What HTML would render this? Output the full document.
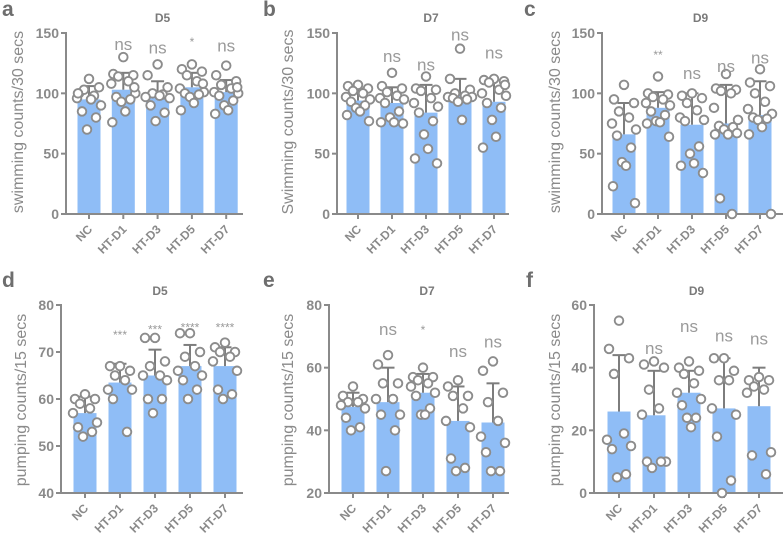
<!DOCTYPE html>
<html><head><meta charset="utf-8">
<style>
html,body{margin:0;padding:0;background:#fff;}
svg{display:block;font-family:"Liberation Sans",sans-serif;}
</style></head>
<body>
<svg id="fig" width="783" height="543" viewBox="0 0 783 543" xmlns="http://www.w3.org/2000/svg"></svg>
<script>
const categories = ["NC","HT-D1","HT-D3","HT-D5","HT-D7"];

// panel a
const aMeans = [95,103,97,105,101];
const aErr = [106,117,110,117,111];
const aPoints = [[112,100,105,103,98,96,90,85,80,70,95,100],[130,116,115,114,110,108,100,97,95,93,85,76,105],[124,115,105,100,99,97,96,90,84,77,98],[124,120,118,115,110,104,101,100,99,97,92,86,108],[123,115,110,107,104,101,100,98,94,90,86,83,105]];
const aSig = ["","ns","ns","*","ns"];
const aSigY = [0,140,137,146,139];
const aTicks = [0,50,100,150];
// panel b
const bMeans = [94,92,84,98,93];
const bErr = [104,105,107,112,111];
const bPoints = [[107,106,104,102,100,97,95,93,90,88,85,82,77],[117,106,104,101,98,96,95,92,85,80,76,76,75],[114,104,103,102,96,92,89,84,77,66,54,46,42],[137,112,103,100,98,97,97,96,95,93,78],[112,111,110,109,103,100,98,92,88,78,64,55,107]];
const bSig = ["","ns","ns","ns","ns"];
const bSigY = [0,130,123,148,133];
const bTicks = [0,50,100,150];
// panel c
const cMeans = [66,88,74,75,82];
const cErr = [92,101,100,107,110];
const cPoints = [[107,95,92,85,80,75,70,65,55,43,40,23,9],[114,100,99,97,95,92,90,85,82,77,76,75,64],[100,98,96,92,86,80,78,77,56,50,42,40,34],[116,104,103,102,100,88,78,73,72,70,66,66,67,13,0],[120,109,106,100,93,87,83,80,79,78,72,66,0]];
const cSig = ["","**","ns","ns","ns"];
const cSigY = [0,135,116,122,129];
const cTicks = [0,50,100,150];
// panel d
const dMeans = [57,63.5,65,67,67];
const dErr = [60.5,67.5,70.5,71.5,71];
const dPoints = [[61,60,60,59,58,57,55,54,53,52],[67,67,66,65,64,62,62,60,53],[73,73,68,67,65,65,64,60,60,57],[74,74,70,69,67,66,65,64,62,60],[72,71,70,70,69,68,66,62,61,60]];
const dSig = ["","***","***","****","****"];
const dSigY = [0,74.5,75.6,76.1,76.1];
const dTicks = [40,50,60,70,80];
// panel e
const eMeans = [47.5,49,52,43,42.5];
const eErr = [52,60,58,54,55];
const ePoints = [[54,51,50,49,49,48,47,44,41,40],[64,61,55,55,50,50,45,45,40,27],[60,57,57,56,55,54,52,51,47,45,45],[56,54,51,51,47,43,41,31,28,27],[62,59,52,49,43,38,36,33,27,27]];
const eSig = ["","ns","*","ns","ns"];
const eSigY = [0,72,73.3,65,68];
const eTicks = [20,40,60,80];
// panel f
const fMeans = [26,24.8,32,27,27.7];
const fErr = [44,39,39,43,40];
const fPoints = [[55,46,43,38,19,17,15,14,6,5],[42,41,40,33,27,25,10,10,10,8],[42,40,39,38,35,32,30,28,24,24,21],[43,43,39,36,36,27,25,18,4,0],[37,36,36,34,33,32,13,12,6]];
const fSig = ["","ns","ns","ns","ns"];
const fSigY = [0,46,53,50,49];
const fTicks = [0,20,40,60];

const NS="http://www.w3.org/2000/svg";
const svg=document.getElementById('fig');
const GRAY="#8a8a8a", BAR="#8fbdf6";
function mk(tag,attrs,parent){const e=document.createElementNS(NS,tag);for(const k in attrs)e.setAttribute(k,attrs[k]);(parent||svg).appendChild(e);return e;}
const jit=[0,-10,10,-5,5,-12,12,-7,7,-2,2,-11,11,-6,6];

function panel(cfg){
  const g=mk('g',{});
  
  
  const v0=cfg.ticks[0], v1=cfg.ticks[cfg.ticks.length-1];
  const y=v=>cfg.yBase+(v-v0)/(v1-v0)*(cfg.yTop-cfg.yBase);
  const x=i=>cfg.x0+i*cfg.step;
  const L=mk('text',{x:cfg.lx,y:cfg.ly,'font-size':21,'font-weight':'bold',fill:'#6e6e6e'},g);L.textContent=cfg.letter;
  
  
  const T=mk('text',{x:(cfg.ax+cfg.axEnd)/2+8,y:cfg.ty,'font-size':12,'font-weight':'bold',fill:'#7a7a7a','text-anchor':'middle'},g);T.textContent=cfg.title;
  
  
  const yl=mk('text',{transform:`translate(${cfg.ylx},${cfg.yly}) rotate(-90)`,'font-size':16,fill:GRAY,'text-anchor':'middle'},g);yl.textContent=cfg.ylabel;
  
  
  cfg.means.forEach((m,i)=>{
    const r=mk('rect',{x:x(i)-11.5,y:y(m),width:23,height:cfg.yBase-y(m),fill:BAR},g);
    
    
  });
  const ya=mk('line',{x1:cfg.ax,y1:cfg.yTop-1,x2:cfg.ax,y2:cfg.yBase,stroke:GRAY,'stroke-width':2},g);
  
  
  const xa=mk('line',{x1:cfg.ax-5,y1:cfg.yBase,x2:cfg.axEnd,y2:cfg.yBase,stroke:GRAY,'stroke-width':2},g);
  
  
  cfg.ticks.forEach(t=>{
    mk('line',{x1:cfg.ax-5,y1:y(t),x2:cfg.ax,y2:y(t),stroke:GRAY,'stroke-width':2},g);
    const tl=mk('text',{x:cfg.ax-7,y:y(t)+5,'font-size':14,'font-weight':'bold',fill:GRAY,'text-anchor':'end'},g);tl.textContent=t;
    
    
  });
  categories.forEach((c,i)=>{
    mk('line',{x1:x(i),y1:cfg.yBase,x2:x(i),y2:cfg.yBase+5,stroke:GRAY,'stroke-width':2},g);
    const xl=mk('text',{transform:`translate(${x(i)+4},${cfg.yBase+16}) rotate(-45)`,'font-size':12,'font-weight':'bold',fill:GRAY,'text-anchor':'end'},g);xl.textContent=c;
    
    
  });
  cfg.means.forEach((m,i)=>{
    const eg=mk('g',{},g);
    
    
    mk('line',{x1:x(i),y1:y(m),x2:x(i),y2:y(cfg.err[i]),stroke:'#7d7d7d','stroke-width':2},eg);
    mk('line',{x1:x(i)-6.5,y1:y(cfg.err[i]),x2:x(i)+6.5,y2:y(cfg.err[i]),stroke:'#7d7d7d','stroke-width':2},eg);
  });
  cfg.points.forEach((arr,i)=>{
    arr.forEach((v,k)=>{
      const p=mk('circle',{cx:x(i)+jit[k%jit.length],cy:y(v),r:4.3,fill:'#fff',stroke:'#8c8c8c','stroke-width':1.9},g);
      
      
    });
  });
  cfg.sig.forEach((s,i)=>{
    if(!s)return;
    const star=s.indexOf('*')>=0;
    const st=mk('text',{x:x(i),y:y(cfg.sigY[i])+(star?8:5),'font-size':star?12:17,fill:'#9a9a9a','text-anchor':'middle'},g);st.textContent=s;
    
    
  });
}
const topRow=[33,214], botRow=[305,493];
panel({letter:'a',lx:2,ly:16,title:'D5',ty:22,means:aMeans,err:aErr,points:aPoints,sig:aSig,sigY:aSigY,ticks:aTicks,yTop:topRow[0],yBase:topRow[1],ax:66,axEnd:243,x0:89,step:34.3,ylabel:'swimming counts/30 secs',ylx:23,yly:122});
panel({letter:'b',lx:263,ly:16,title:'D7',ty:22,means:bMeans,err:bErr,points:bPoints,sig:bSig,sigY:bSigY,ticks:bTicks,yTop:topRow[0],yBase:topRow[1],ax:337,axEnd:509,x0:358,step:34,ylabel:'Swimming counts/30 secs',ylx:293,yly:122});
panel({letter:'c',lx:524,ly:16,title:'D9',ty:22,means:cMeans,err:cErr,points:cPoints,sig:cSig,sigY:cSigY,ticks:cTicks,yTop:topRow[0],yBase:topRow[1],ax:602,axEnd:783,x0:624,step:34,ylabel:'swimming counts/30 secs',ylx:560,yly:122});
panel({letter:'d',lx:2,ly:287,title:'D5',ty:295,means:dMeans,err:dErr,points:dPoints,sig:dSig,sigY:dSigY,ticks:dTicks,yTop:botRow[0],yBase:botRow[1],ax:61,axEnd:243,x0:85,step:35,ylabel:'pumping counts/15 secs',ylx:26,yly:400});
panel({letter:'e',lx:263,ly:287,title:'D7',ty:295,means:eMeans,err:eErr,points:ePoints,sig:eSig,sigY:eSigY,ticks:eTicks,yTop:botRow[0],yBase:botRow[1],ax:329,axEnd:509,x0:353,step:35,ylabel:'pumping counts/15 secs',ylx:293,yly:400});
panel({letter:'f',lx:526,ly:287,title:'D9',ty:295,means:fMeans,err:fErr,points:fPoints,sig:fSig,sigY:fSigY,ticks:fTicks,yTop:botRow[0],yBase:botRow[1],ax:594,axEnd:783,x0:619,step:35,ylabel:'pumping counts/15 secs',ylx:560,yly:400});
</script>
</body></html>
